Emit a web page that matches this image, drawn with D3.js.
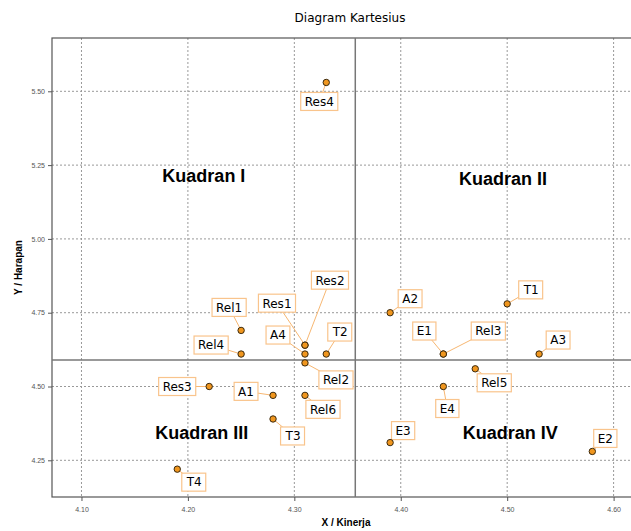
<!DOCTYPE html>
<html>
<head>
<meta charset="utf-8">
<script src="https://cdn.jsdelivr.net/npm/d3@7"></script>
<style>
  body { margin: 0; background: #fff; }
  svg { font-family: "DejaVu Sans", Verdana, sans-serif; }
</style>
</head>
<body>
<div id="chart"></div>
<script>
// data
const names = ["Res4", "Rel1", "Rel4", "Res1", "Res2", "A4", "Rel2", "T2", "Res3", "A1", "Rel6",
    "T3", "T4", "A2", "T1", "E1", "Rel3", "A3", "Rel5", "E4", "E3", "E2"];
const kinerja = [4.33, 4.25, 4.25, 4.31, 4.31, 4.31, 4.31, 4.33, 4.22, 4.28, 4.31,
    4.28, 4.19, 4.39, 4.50, 4.44, 4.44, 4.53, 4.47, 4.44, 4.39, 4.58];
const harapan = [5.53, 4.69, 4.61, 4.64, 4.64, 4.61, 4.58, 4.61, 4.50, 4.47, 4.47,
    4.39, 4.22, 4.75, 4.78, 4.61, 4.61, 4.61, 4.56, 4.50, 4.31, 4.28];
const xTicks = [4.10, 4.20, 4.30, 4.40, 4.50, 4.60];
const yTicks = [4.25, 4.50, 4.75, 5.00, 5.25, 5.50];
const quadrants = ["Kuadran I", "Kuadran II", "Kuadran III", "Kuadran IV"];

// label box offsets (px) from each point, same order as names
const labelOffsets = [[-7, 19], [-12, -23], [-30, -9], [-28, -42], [25, -65], [-27, -19], [31, 17],
    [14, -22], [-32, 0], [-27, -4], [18, 14], [20, 17], [17, 13], [20, -14], [24, -14], [-19, -23],
    [45, -23], [19, -14], [19, 14], [4, 22], [13, -12], [13, -13]];
// quadrant label anchors in data units
const quadPos = [[4.215, 5.215], [4.496, 5.205], [4.213, 4.343], [4.503, 4.343]];

const points = names.map((n, i) => ({ name: n, x: kinerja[i], y: harapan[i], off: labelOffsets[i] }));

const W = 631, H = 531;
const margin = { top: 38, right: -9, bottom: 34, left: 52 };
const width = W - margin.left - margin.right,
    height = H - margin.top - margin.bottom;

const x = d3.scaleLinear().domain([4.0723, 4.6248]).range([0, width]);
const y = d3.scaleLinear().domain([4.1257, 5.6806]).range([height, 0]);

const svg = d3.select("#chart").append("svg")
    .attr("width", W)
    .attr("height", H);

svg.append("text")
    .attr("x", 350).attr("y", 22)
    .attr("text-anchor", "middle")
    .style("font-size", "12px")
    .text("Diagram Kartesius");

const chart = svg.append("g")
    .attr("transform", "translate(" + margin.left + "," + margin.top + ")");

// grid
chart.selectAll(".vgrid").data(xTicks).enter().append("line")
    .attr("x1", d => x(d)).attr("x2", d => x(d))
    .attr("y1", 0).attr("y2", height)
    .attr("stroke", "#999").attr("stroke-dasharray", "2,2");
chart.selectAll(".hgrid").data(yTicks).enter().append("line")
    .attr("y1", d => y(d)).attr("y2", d => y(d))
    .attr("x1", 0).attr("x2", width)
    .attr("stroke", "#999").attr("stroke-dasharray", "2,2");

// axes
const xAxis = d3.axisBottom(x).tickValues(xTicks).tickFormat(d3.format(".2f")).tickSize(4);
const yAxis = d3.axisLeft(y).tickValues(yTicks).tickFormat(d3.format(".2f")).tickSize(4);

const gx = chart.append("g")
    .attr("transform", "translate(0," + height + ")")
    .call(xAxis);
const gy = chart.append("g").call(yAxis);
[gx, gy].forEach(g => {
    g.select(".domain").remove();
    g.selectAll(".tick line").attr("stroke", "#555");
    g.selectAll(".tick text").attr("fill", "#555").style("font-size", "7px")
        .style("font-family", "'Liberation Sans', Arial, sans-serif");
});
gx.selectAll(".tick text").attr("dy", "1.2em");

// frame
chart.append("rect")
    .attr("width", width).attr("height", height)
    .attr("fill", "none").attr("stroke", "#555").attr("stroke-width", 1.2);

// mean lines
const mx = d3.mean(kinerja), my = d3.mean(harapan);
chart.append("line")
    .attr("x1", x(mx)).attr("x2", x(mx)).attr("y1", 0).attr("y2", height)
    .attr("stroke", "#777").attr("stroke-width", 1.5);
chart.append("line")
    .attr("y1", y(my)).attr("y2", y(my)).attr("x1", 0).attr("x2", width)
    .attr("stroke", "#777").attr("stroke-width", 1.5);

// quadrant labels
chart.selectAll(".quad").data(quadrants).enter().append("text")
    .attr("x", (d, i) => x(quadPos[i][0]))
    .attr("y", (d, i) => y(quadPos[i][1]))
    .attr("text-anchor", "middle")
    .attr("dy", "0.35em")
    .style("font-size", "18px")
    .style("font-weight", "bold")
    .style("font-family", "'Liberation Sans', Arial, sans-serif")
    .text(d => d);

// leader lines
chart.selectAll(".leader").data(points).enter().append("line")
    .attr("x1", d => x(d.x)).attr("y1", d => y(d.y))
    .attr("x2", d => x(d.x) + d.off[0]).attr("y2", d => y(d.y) + d.off[1])
    .attr("stroke", "#f7b772").attr("stroke-width", 1);

// labels
const lab = chart.selectAll(".lab").data(points).enter().append("g")
    .attr("transform", d => "translate(" + (x(d.x) + d.off[0]) + "," + (y(d.y) + d.off[1]) + ")");
lab.append("text")
    .attr("text-anchor", "middle")
    .attr("dy", "0.36em")
    .style("font-size", "12px")
    .text(d => d.name);
lab.each(function() {
    const g = d3.select(this);
    const b = g.select("text").node().getBBox();
    g.insert("rect", "text")
        .attr("x", b.x - 4).attr("y", -9)
        .attr("width", b.width + 8).attr("height", 18)
        .attr("fill", "#fff").attr("stroke", "#f9c48c").attr("stroke-width", 1.2);
});

// points
chart.selectAll(".dot").data(points).enter().append("circle")
    .attr("cx", d => x(d.x)).attr("cy", d => y(d.y))
    .attr("r", 3.2)
    .attr("fill", "#f0961e").attr("stroke", "#3a2a10").attr("stroke-width", 1);

// axis titles
svg.append("text")
    .attr("x", margin.left + width / 2).attr("y", 526)
    .attr("text-anchor", "middle")
    .style("font-size", "10px").style("font-weight", "bold")
    .style("font-family", "'Liberation Sans', Arial, sans-serif")
    .text("X / Kinerja");
svg.append("text")
    .attr("transform", "translate(22," + (margin.top + height / 2) + ") rotate(-90)")
    .attr("text-anchor", "middle")
    .style("font-size", "10px").style("font-weight", "bold")
    .style("font-family", "'Liberation Sans', Arial, sans-serif")
    .text("Y / Harapan");
</script>
</body>
</html>
